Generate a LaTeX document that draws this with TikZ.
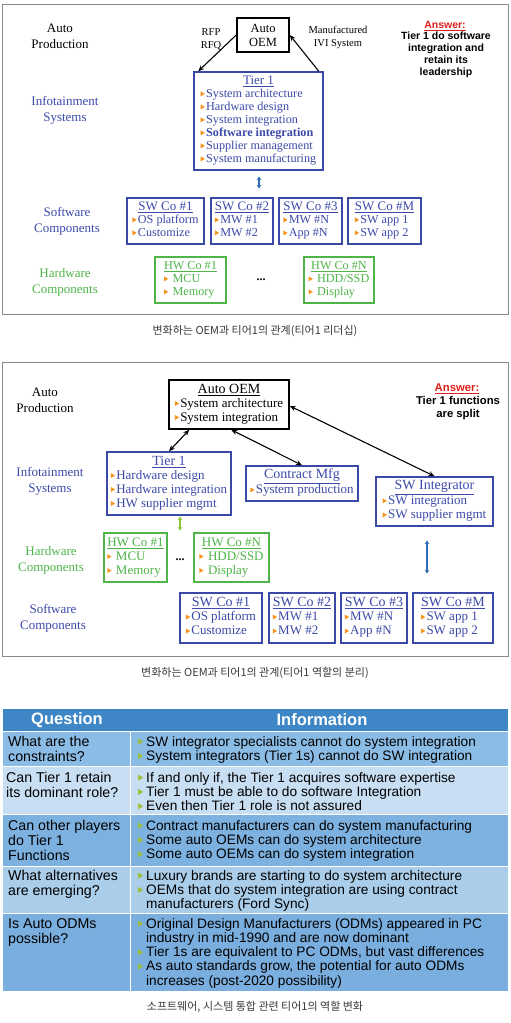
\documentclass[tikz,border=0pt]{standalone}
\usepackage{fontspec}
\setmainfont{Liberation Serif}
\setsansfont{Liberation Sans}
\newfontfamily\krfont{Noto Sans CJK KR}
\usetikzlibrary{arrows.meta,calc}
\definecolor{txtblue}{HTML}{3D4AA9}
\definecolor{boxblue}{HTML}{3A48A8}
\definecolor{hwgreen}{HTML}{4FB548}
\definecolor{bulor}{HTML}{F7941D}
\definecolor{arrblue}{HTML}{2E6DB5}
\definecolor{arrgreen}{HTML}{8DC63F}
\definecolor{hdrblue}{HTML}{3E86C6}
\definecolor{rowA}{HTML}{8BBCE5}
\definecolor{rowB}{HTML}{C8DEF2}
\definecolor{rowC}{HTML}{7DB1E0}
\definecolor{rowD}{HTML}{AACDEA}
\definecolor{rowE}{HTML}{7AAEDE}
\definecolor{bulgr}{HTML}{9CBF3C}
\definecolor{ansred}{HTML}{E0201B}
\definecolor{framegray}{HTML}{8A8A8A}
\definecolor{capgray}{HTML}{3A3A3A}
\newcommand\obul{\raisebox{0.1em}{\tikz\fill[bulor] (0pt,0pt)--(0pt,5pt)--(4.2pt,2.5pt)--cycle;}\hspace{1.2pt}}
\newcommand\tbul{\makebox[8pt][l]{\raisebox{0.1em}{\tikz\fill[bulgr] (0pt,0pt)--(0pt,6pt)--(5pt,3pt)--cycle;}}}
\tikzset{
  lab/.style={align=center, inner sep=0pt},
  bbox/.style={draw=boxblue, line width=1.5pt, inner sep=0pt, text=txtblue},
  gbox/.style={draw=hwgreen, line width=1.4pt, inner sep=0pt, text=hwgreen},
  kbox/.style={draw=black, line width=1.6pt, inner sep=0pt},
  pone/.style={font=\fontsize{12.2}{13}\selectfont},
  ptwo/.style={font=\fontsize{13}{14}\selectfont},
  karr/.style={-{Stealth[length=6pt,width=5pt]}, line width=1.1pt},
  kdarr/.style={{Stealth[length=6pt,width=5pt]}-{Stealth[length=6pt,width=5pt]}, line width=1.1pt},
  barr/.style={{Stealth[length=3.5pt,width=4.5pt]}-{Stealth[length=3.5pt,width=4.5pt]}, line width=1.8pt, draw=arrblue},
  garr/.style={{Stealth[length=3.5pt,width=4.5pt]}-{Stealth[length=3.5pt,width=4.5pt]}, line width=1.8pt, draw=arrgreen},
  side/.style={lab, font=\fontsize{13}{16}\selectfont},
  ans/.style={lab, font=\sffamily\bfseries\fontsize{10.5}{12}\selectfont},
  qcell/.style={anchor=base west, inner sep=0pt, font=\sffamily\fontsize{14.2}{15}\selectfont},
  icell/.style={anchor=base west, inner sep=0pt, font=\sffamily\fontsize{13.7}{14.3}\selectfont},
  captxt/.style={lab, text=capgray, font=\krfont\fontsize{11}{12}\selectfont}
}
\begin{document}
\begin{tikzpicture}[x=1pt,y=-1pt]
\useasboundingbox (0,0) rectangle (511,1023);
\fill[white] (0,0) rectangle (511,1023);

% ---------------- Panel 1 ----------------
\draw[framegray, line width=0.9pt] (2.5,4.5) rectangle (508.5,314);
\node[side] (ap1) at (60,36) {Auto\\Production};
\node[side, text=txtblue] (is1) at (65,110) {Infotainment\\Systems};
\node[side, text=txtblue] (sc1) at (67,221) {Software\\Components};
\node[side, text=hwgreen] (hc1) at (65,282) {Hardware\\Components};
\node[lab, font=\fontsize{10.5}{13}\selectfont] (rfp) at (211,39) {RFP\\RFQ};
\node[lab, font=\fontsize{10.5}{13}\selectfont] (mivi) at (338,37) {Manufactured\\IVI System};
\node[ans, text=ansred] (ans1h) at (445,26) {\underline{Answer:}};
\node[ans] (ans1) at (446,55) {Tier 1 do software\\integration and\\retain its\\leadership};

\node[kbox, minimum width=52pt, minimum height=34pt, align=center, font=\fontsize{12.5}{14}\selectfont] (oem1) at (263,35) {Auto\\OEM};

\node[bbox, pone, minimum width=129pt, minimum height=98pt] (tier1a) at (258.5,121)
 {\begin{tabular}{@{}l@{}}\multicolumn{1}{@{}c@{}}{\fontsize{13}{13}\selectfont\underline{Tier 1}}\\
 \obul System architecture\\ \obul Hardware design\\ \obul System integration\\
 \obul \textbf{Software integration}\\ \obul Supplier management\\ \obul System manufacturing\end{tabular}};

\node[bbox, pone, minimum width=77pt, minimum height=46pt] (s1) at (165.5,221)
 {\begin{tabular}{@{}l@{}}\multicolumn{1}{@{}c@{}}{\fontsize{13}{13}\selectfont\underline{SW Co \#1}}\\ \obul OS platform\\ \obul Customize\end{tabular}};
\node[bbox, pone, minimum width=62pt, minimum height=46pt] (s2) at (242,221)
 {\begin{tabular}{@{}l@{}}\multicolumn{1}{@{}c@{}}{\fontsize{13}{13}\selectfont\underline{SW Co \#2}}\\ \obul MW \#1\\ \obul MW \#2\end{tabular}};
\node[bbox, pone, minimum width=63pt, minimum height=46pt] (s3) at (310.5,221)
 {\begin{tabular}{@{}l@{}}\multicolumn{1}{@{}c@{}}{\fontsize{13}{13}\selectfont\underline{SW Co \#3}}\\ \obul MW \#N\\ \obul App \#N\end{tabular}};
\node[bbox, pone, minimum width=73pt, minimum height=46pt] (sM) at (384.5,221)
 {\begin{tabular}{@{}l@{}}\multicolumn{1}{@{}c@{}}{\fontsize{13}{13}\selectfont\underline{SW Co \#M}}\\ \obul SW app 1\\ \obul SW app 2\end{tabular}};

\node[gbox, pone, minimum width=71pt, minimum height=46pt] (h1) at (190.5,280)
 {\begin{tabular}{@{}l@{}}\multicolumn{1}{@{}c@{}}{\underline{HW Co \#1}}\\ \obul\ MCU\\ \obul\ Memory\end{tabular}};
\node[gbox, pone, minimum width=70pt, minimum height=46pt] (hN) at (339,280)
 {\begin{tabular}{@{}l@{}}\multicolumn{1}{@{}c@{}}{\underline{HW Co \#N}}\\ \obul\ HDD/SSD\\ \obul\ Display\end{tabular}};
\node[lab, font=\bfseries\fontsize{12}{12}\selectfont] (dots1) at (261,280) {...};

\draw[karr] (oem1.west) -- ([xshift=5pt]tier1a.north west);
\draw[karr] ([xshift=-5pt]tier1a.north east) -- (oem1.east);
\coordinate (ba1t) at (259,176.5);
\coordinate (ba1b) at (259,188.5);
\draw[barr] (ba1t) -- (ba1b);

\node[captxt] (cap1) at (255,331) {변화하는 OEM과 티어1의 관계(티어1 리더십)};

% ---------------- Panel 2 ----------------
\draw[framegray, line width=0.9pt] (2.5,362) rectangle (508.5,656);
\node[side] (ap2) at (45,400) {Auto\\Production};
\node[side, text=txtblue] (is2) at (50,481) {Infotainment\\Systems};
\node[side, text=hwgreen] (hc2) at (51,560) {Hardware\\Components};
\node[side, text=txtblue] (sc2) at (53,618) {Software\\Components};
\node[ans, text=ansred, font=\sffamily\bfseries\fontsize{11.3}{12}\selectfont] (ans2h) at (457,389) {\underline{Answer:}};
\node[ans, font=\sffamily\bfseries\fontsize{11.3}{12.5}\selectfont] (ans2) at (458,408) {Tier 1 functions\\ are split};

\node[kbox, ptwo, minimum width=120pt, minimum height=49pt] (oem2) at (229,404.5)
 {\begin{tabular}{@{}l@{}}\multicolumn{1}{@{}c@{}}{\fontsize{14}{14}\selectfont\underline{Auto OEM}}\\ \obul System architecture\\ \obul System integration\end{tabular}};
\node[bbox, ptwo, minimum width=124pt, minimum height=63pt] (tier1b) at (169,483.5)
 {\begin{tabular}{@{}l@{}}\multicolumn{1}{@{}c@{}}{\fontsize{14}{14}\selectfont\underline{Tier 1}}\\ \obul Hardware design\\ \obul Hardware integration\\ \obul HW supplier mgmt\end{tabular}};
\node[bbox, ptwo, minimum width=112pt, minimum height=35pt] (cm) at (302,483.5)
 {\begin{tabular}{@{}l@{}}\multicolumn{1}{@{}c@{}}{\fontsize{14}{14}\selectfont\underline{Contract Mfg}}\\ \obul System production\end{tabular}};
\node[bbox, ptwo, minimum width=117pt, minimum height=49pt] (swi) at (434.5,501.5)
 {\begin{tabular}{@{}l@{}}\multicolumn{1}{@{}c@{}}{\fontsize{14}{14}\selectfont\underline{SW Integrator}}\\ \obul SW integration\\ \obul SW supplier mgmt\end{tabular}};

\node[gbox, ptwo, minimum width=63pt, minimum height=49pt] (h1b) at (135.5,557.5)
 {\begin{tabular}{@{}l@{}}\multicolumn{1}{@{}c@{}}{\underline{HW Co \#1}}\\ \obul\ MCU\\ \obul\ Memory\end{tabular}};
\node[gbox, ptwo, minimum width=75pt, minimum height=49pt] (hNb) at (231.5,557.5)
 {\begin{tabular}{@{}l@{}}\multicolumn{1}{@{}c@{}}{\underline{HW Co \#N}}\\ \obul\ HDD/SSD\\ \obul\ Display\end{tabular}};
\node[lab, font=\bfseries\fontsize{12}{12}\selectfont] (dots2) at (180,560) {...};

\node[bbox, ptwo, minimum width=82pt, minimum height=50pt] (s1b) at (221,618)
 {\begin{tabular}{@{}l@{}}\multicolumn{1}{@{}c@{}}{\fontsize{14}{14}\selectfont\underline{SW Co \#1}}\\ \obul OS platform\\ \obul Customize\end{tabular}};
\node[bbox, ptwo, minimum width=66pt, minimum height=50pt] (s2b) at (302,618)
 {\begin{tabular}{@{}l@{}}\multicolumn{1}{@{}c@{}}{\fontsize{14}{14}\selectfont\underline{SW Co \#2}}\\ \obul MW \#1\\ \obul MW \#2\end{tabular}};
\node[bbox, ptwo, minimum width=66pt, minimum height=50pt] (s3b) at (374,618)
 {\begin{tabular}{@{}l@{}}\multicolumn{1}{@{}c@{}}{\fontsize{14}{14}\selectfont\underline{SW Co \#3}}\\ \obul MW \#N\\ \obul App \#N\end{tabular}};
\node[bbox, ptwo, minimum width=80pt, minimum height=50pt] (sMb) at (453,618)
 {\begin{tabular}{@{}l@{}}\multicolumn{1}{@{}c@{}}{\fontsize{14}{14}\selectfont\underline{SW Co \#M}}\\ \obul SW app 1\\ \obul SW app 2\end{tabular}};

\draw[kdarr] ([xshift=21pt]oem2.south west) -- (tier1b.north);
\draw[kdarr] ([xshift=63pt]oem2.south west) -- (cm.north);
\draw[kdarr] ([yshift=-1.5pt]oem2.east) -- (swi.north);
\coordinate (ga2t) at (180,516.5);
\coordinate (ga2b) at (180,530.5);
\draw[garr] (ga2t) -- (ga2b);
\coordinate (ba2t) at (427,540.5);
\coordinate (ba2b) at (427,573.5);
\draw[barr] (ba2t) -- (ba2b);

\node[captxt] (cap2) at (255,673) {변화하는 OEM과 티어1의 관계(티어1 역할의 분리)};

% ---------------- Table ----------------
\fill[hdrblue] (3,709) rectangle (508,731);
\fill[rowA] (3,731) rectangle (508,766);
\fill[rowB] (3,766) rectangle (508,814);
\fill[rowC] (3,814) rectangle (508,866);
\fill[rowD] (3,866) rectangle (508,913);
\fill[rowE] (3,913) rectangle (508,991);
\draw[white, line width=0.8pt] (130,731) -- (130,991);
\foreach \yy in {731,766,814,866,913} \draw[white, line width=0.8pt] (3,\yy) -- (508,\yy);

\node[lab, text=white, font=\sffamily\bfseries\fontsize{16.5}{18}\selectfont] (hq) at (67,720) {Question};
\node[lab, text=white, font=\sffamily\bfseries\fontsize{16.5}{18}\selectfont] (hi) at (322,720) {Information};

\node[qcell] (q1) at (8,746) {\begin{tabular}[t]{@{}l@{}}What are the\\constraints?\end{tabular}};
\node[qcell] (q2) at (6,782) {\begin{tabular}[t]{@{}l@{}}Can Tier 1 retain\\its dominant role?\end{tabular}};
\node[qcell] (q3) at (8,830) {\begin{tabular}[t]{@{}l@{}}Can other players\\do Tier 1\\Functions\end{tabular}};
\node[qcell] (q4) at (8,880) {\begin{tabular}[t]{@{}l@{}}What alternatives\\are emerging?\end{tabular}};
\node[qcell] (q5) at (8,928) {\begin{tabular}[t]{@{}l@{}}Is Auto ODMs\\possible?\end{tabular}};

\node[icell] (i1) at (138,746) {\begin{tabular}[t]{@{}l@{}l@{}}\tbul&SW integrator specialists cannot do system integration\\
 \tbul&System integrators (Tier 1s) cannot do SW integration\end{tabular}};
\node[icell] (i2) at (138,782) {\begin{tabular}[t]{@{}l@{}l@{}}\tbul&If and only if, the Tier 1 acquires software expertise\\
 \tbul&Tier 1 must be able to do software Integration\\ \tbul&Even then Tier 1 role is not assured\end{tabular}};
\node[icell] (i3) at (138,830) {\begin{tabular}[t]{@{}l@{}l@{}}\tbul&Contract manufacturers can do system manufacturing\\
 \tbul&Some auto OEMs can do system architecture\\ \tbul&Some auto OEMs can do system integration\end{tabular}};
\node[icell] (i4) at (138,880) {\begin{tabular}[t]{@{}l@{}l@{}}\tbul&Luxury brands are starting to do system architecture\\
 \tbul&OEMs that do system integration are using contract\\ &manufacturers (Ford Sync)\end{tabular}};
\node[icell] (i5) at (138,928) {\begin{tabular}[t]{@{}l@{}l@{}}\tbul&Original Design Manufacturers (ODMs) appeared in PC\\
 &industry in mid-1990 and are now dominant\\ \tbul&Tier 1s are equivalent to PC ODMs, but vast differences\\
 \tbul&As auto standards grow, the potential for auto ODMs\\ &increases (post-2020 possibility)\end{tabular}};

\node[captxt] (cap3) at (255,1007) {소프트웨어, 시스템 통합 관련 티어1의 역할 변화};
\end{tikzpicture}
\end{document}
